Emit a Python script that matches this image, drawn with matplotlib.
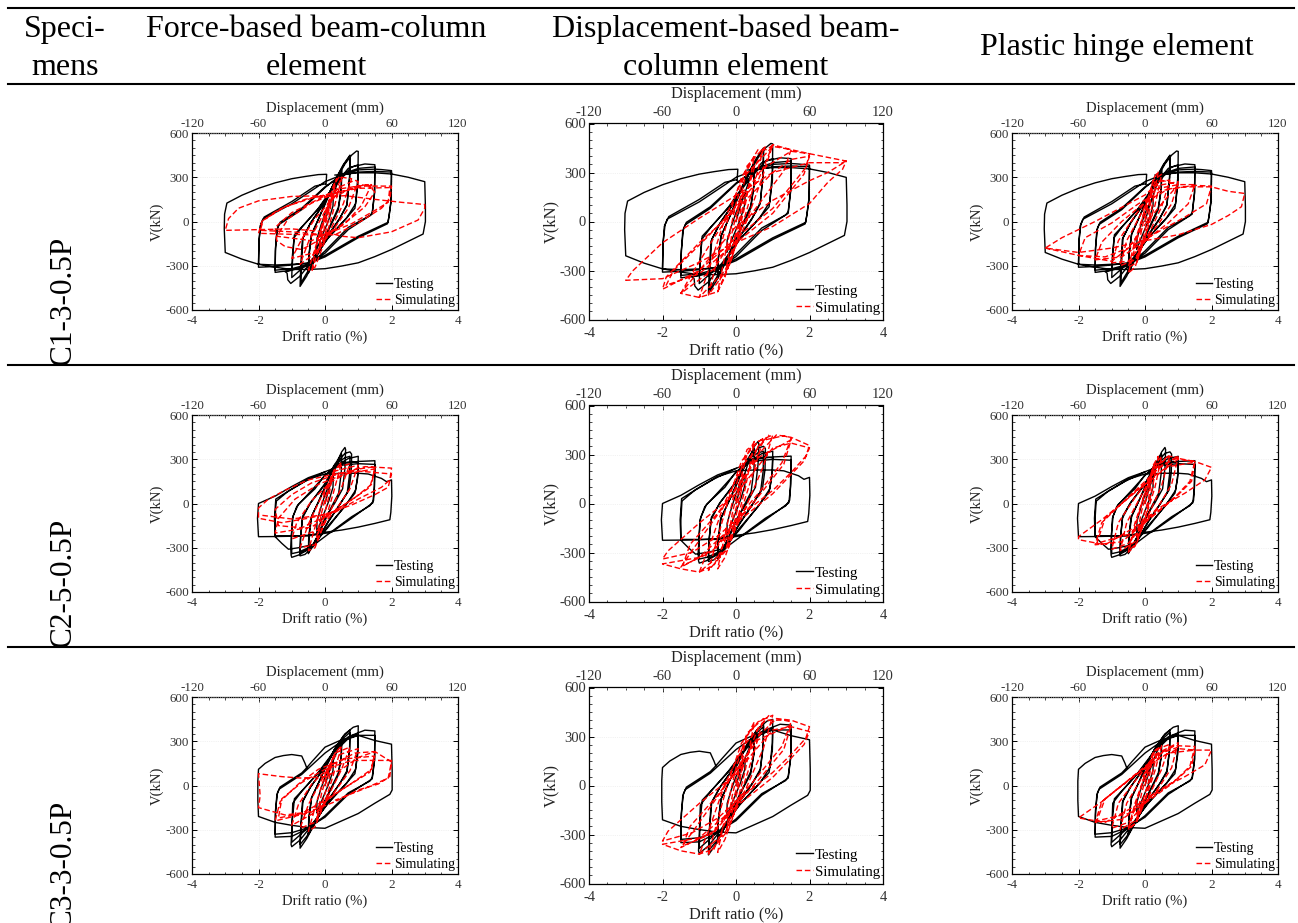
import numpy as np
import matplotlib
matplotlib.use('Agg')
import matplotlib.pyplot as plt
from matplotlib.lines import Line2D
from matplotlib.ticker import AutoMinorLocator

plt.rcParams['font.family'] = ['Liberation Serif', 'DejaVu Serif']
plt.rcParams['axes.unicode_minus'] = False

# all curves are (drift %, shear kN)
c1_test = [(0,0),(.12,95),(.25,175),(.24,105),(.12,15),(0,-50),(-.12,-115),(-.25,-190),(-.24,-115),(-.12,-25),(0,55),(.12,115),(.25,180),
    (.38,265),(.5,345),(.49,225),(.4,95),(.22,5),(0,-100),(-.25,-225),(-.5,-345),(-.49,-235),(-.41,-90),(-.22,5),(0,115),(.25,245),(.5,350),
    (.49,220),(.4,80),(.2,-15),(0,-110),(-.25,-235),(-.5,-350),(-.48,-230),(-.4,-85),(-.2,15),(0,125),
    (.3,280),(.55,385),(.75,450),(.74,300),(.66,115),(.45,25),(.1,-90),(-.3,-250),(-.55,-370),(-.75,-440),(-.73,-300),(-.68,-120),(-.45,-15),
    (0,130),(.3,275),(.55,380),(.75,445),(.74,300),(.66,110),(.42,10),(.1,-95),(-.3,-255),(-.55,-350),(-.72,-415),(-.71,-290),(-.66,-110),(-.42,-5),
    (0,135),(.3,270),(.6,390),(.8,450),(.95,478),(1,475),(.99,310),(.92,120),(.65,25),(.1,-110),(-.4,-270),(-.75,-370),(-1,-415),(-1.03,-420),
    (-1.12,-395),(-1.14,-350),(-1.2,-340),(-1,-330),(-.98,-280),(-.93,-110),(-.7,-40),(-.2,90),(.3,250),(.7,360),(1,385),(.99,250),(.9,90),(.6,10),
    (.1,-110),(-.4,-260),(-1,-380),(-.98,-230),(-.92,-90),(-.65,-25),(-.2,85),(.3,240),(.8,370),(1.2,390),(1.5,385),(1.49,200),(1.42,60),(1.35,40),
    (.7,-40),(0,-200),(-.5,-300),(-1,-330),(-1.5,-345),(-1.49,-200),(-1.45,-60),(-1.38,-20),(-.7,80),(0,230),(.5,320),(1,360),(1.5,370),(1.49,190),
    (1.42,50),(.7,-55),(0,-215),(-.5,-290),(-1,-320),(-1.5,-330),(-1.49,-180),(-1.43,-45),(-1.35,-5),(-.7,90),(0,235),(.5,310),(1,350),(1.5,355),
    (1.7,352),(2,345),(1.99,150),(1.93,50),(1.9,-5),(1,-100),(0,-230),(-.5,-280),(-1,-295),(-1.5,-305),(-2,-310),(-1.99,-150),(-1.95,-30),(-1.87,15),
    (-1,120),(0,270),(.5,315),(1,335),(1.5,340),(2,335),(1.99,140),(1.93,40),(1.88,-15),(1,-110),(0,-240),(-.5,-285),(-1,-290),(-1.5,-295),(-2,-290),
    (-1.98,-120),(-1.93,-20),(-1.83,30),(-1,135),(-.3,240),(0,255),(.03,250),(.05,320),(-.2,318),(-.6,305),(-1,290),(-1.5,262),(-2,225),(-2.5,178),
    (-2.95,125),(-3.02,50),(-3.03,-50),(-3,-210),(-2.5,-255),(-2,-290),(-1.5,-310),(-1,-325),(-.5,-325),(0,-320),(.5,-302),(1,-280),(1.5,-238),(2,-190),
    (2.5,-135),(2.95,-85),(3.02,0),(3.02,100),(3,270),(2.5,300),(2,322),(1.5,330),(1,330),(.3,315)]

c2_test = [(0,0),(.12,100),(.25,180),(.24,110),(.12,20),(0,-50),(-.12,-120),(-.25,-200),(-.24,-120),(-.12,-25),(0,60),(.12,125),(.25,190),
    (.4,300),(.5,350),(.6,380),(.62,365),(.6,240),(.53,100),(.3,5),(0,-100),(-.25,-230),(-.5,-340),(-.49,-230),(-.42,-95),(-.22,0),(0,105),(.25,250),
    (.5,335),(.49,210),(.41,70),(.2,-20),(0,-115),(-.25,-235),(-.5,-335),(-.48,-225),(-.4,-85),(-.2,10),(0,115),(.3,260),(.6,340),(.75,350),(.8,335),
    (.79,210),(.72,90),(.45,-5),(.1,-120),(-.3,-280),(-.6,-345),(-.75,-355),(-.74,-240),(-.68,-100),(-.45,0),(0,130),(.3,265),(.6,310),(.75,320),
    (.74,200),(.67,75),(.42,-15),(.1,-125),(-.3,-270),(-.6,-320),(-.75,-335),(-.73,-220),(-.67,-85),(-.42,10),(0,135),(.3,250),(.7,305),(1,320),
    (.99,200),(.92,90),(.6,-20),(.1,-150),(-.4,-300),(-.8,-350),(-1,-365),(-1.02,-350),(-1.03,-300),(-1.01,-230),(-.98,-100),(-.85,-20),(-.4,90),(0,190),
    (.4,270),(.8,285),(1,280),(.98,170),(.9,70),(.55,-30),(.1,-160),(-.4,-290),(-.8,-330),(-1,-340),(-1.01,-210),(-.96,-85),(-.8,-5),(-.3,100),
    (0,195),(.5,270),(1,285),(1.5,290),(1.49,120),(1.46,20),(1.35,-15),(.8,-90),(.2,-190),(-.3,-275),(-.8,-300),(-1.1,-310),(-1.2,-290),(-1.3,-270),
    (-1.5,-225),(-1.52,-100),(-1.48,30),(-1.2,70),(-.6,150),(0,215),(.5,260),(1,270),(1.5,265),(1.48,100),(1.44,5),(.8,-100),(.2,-195),(-.5,-220),
    (-1,-220),(-1.5,-220),(-1.5,-100),(-1.47,15),(-1.1,85),(-.5,165),(0,200),(.5,205),(1,205),(1.3,200),(1.7,170),(1.85,148),(2,160),(2.01,50),(1.98,-60),
    (1.95,-110),(1.5,-135),(1,-160),(.5,-180),(0,-195),(-.5,-215),(-1,-222),(-1.5,-224),(-2,-225),(-2.03,-100),(-2,0),(-1.5,50),(-1,115),(-.5,175),(0,215)]

c3_test = [(0,0),(.12,90),(.25,165),(.24,100),(.12,15),(0,-50),(-.12,-115),(-.25,-185),(-.24,-110),(-.12,-20),(0,55),(.12,110),(.25,170),
    (.38,240),(.5,300),(.49,200),(.4,85),(.22,0),(0,-100),(-.25,-225),(-.5,-330),(-.49,-225),(-.41,-85),(-.22,5),(0,110),(.25,225),(.5,305),
    (.49,195),(.4,70),(.2,-15),(0,-110),(-.25,-235),(-.5,-330),(-.48,-220),(-.4,-80),(-.2,15),(0,120),(.3,250),(.55,335),(.75,375),(.74,250),(.66,100),
    (.45,15),(.1,-95),(-.3,-255),(-.55,-360),(-.75,-425),(-.73,-290),(-.68,-115),(-.45,-15),(0,125),(.3,250),(.55,320),(.75,360),(.74,240),(.66,90),
    (.42,5),(.1,-100),(-.3,-250),(-.55,-345),(-.75,-400),(-.72,-270),(-.66,-100),(-.42,-5),(0,130),(.3,250),(.6,350),(.85,395),(1,405),(.99,260),(.92,110),
    (.65,15),(.1,-115),(-.4,-270),(-.75,-370),(-1,-415),(-1.02,-400),(-1,-300),(-.97,-120),(-.7,-40),(-.2,90),(.3,240),(.7,330),(1,350),(.99,220),
    (.9,80),(.6,5),(.1,-120),(-.4,-265),(-1,-385),(-.98,-230),(-.92,-90),(-.65,-25),(-.2,85),(.3,230),(.8,340),(1.2,375),(1.5,370),(1.49,180),(1.42,55),
    (1.35,30),(.7,-50),(0,-205),(-.5,-290),(-1,-345),(-1.5,-350),(-1.49,-200),(-1.45,-65),(-1.38,-25),(-.7,75),(0,220),(.5,300),(1,340),(1.5,340),
    (1.49,170),(1.42,45),(.7,-60),(0,-215),(-.5,-285),(-1,-320),(-1.5,-330),(-1.49,-170),(-1.43,-50),(-1.35,-10),(-.7,85),(-.55,120),(-.6,150),(-.7,200),
    (-1,210),(-1.25,203),(-1.5,190),(-1.8,150),(-2,110),(-2.02,30),(-2.02,-100),(-2,-210),(-1.5,-250),(-1,-270),(-.5,-285),(0,-290),(.5,-240),(1,-190),(1.5,-120),(1.95,-60),(2.02,-30),(2.02,100),
    (2,280),(1.5,305),(1,340),(.5,310),(0,260),(-.4,160),(-.55,120)]

c1_fb_sim = [(0,0),(.1,90),(.2,170),(.15,60),(0,-90),(-.2,-210),(-.1,-70),(.05,80),(.25,240),(.35,290),(.1,60),(-.1,-120),(-.4,-340),(-.3,-200),(0,60),(.3,260),
    (.45,310),(.5,290),(.2,30),(0,-130),(-.3,-310),(-.5,-330),(-.2,-110),(.1,90),(.5,300),(.8,290),(.55,120),(.2,-40),(-.2,-200),(-.75,-290),(-.5,-140),(0,70),(.5,240),
    (.9,280),(1.0,270),(.7,90),(.3,-40),(-.3,-210),(-1.0,-250),(-.7,-120),(-.3,20),(.3,170),(1,245),(1.4,250),(1.1,110),(.7,10),(0,-105),(-.7,-190),(-1.2,-170),(-1.45,-130),
    (-1.5,-40),(-1,60),(-.3,140),(.4,220),(1.3,250),(1.5,200),(1.2,100),(.5,-30),(-.4,-130),(-1.45,-100),(-1.1,20),(-.4,125),(.4,200),(1.2,240),(2,240),(1.95,150),
    (1.7,90),(1,-10),(.3,-90),(-.5,-90),(-1.3,-85),(-2,-80),(-1.9,0),(-1.4,80),(-.6,150),(.2,190),(1,225),(1.95,230),(1.9,130),(1.5,75),(.8,-15),(0,-90),(-1,-70),
    (-1.95,-60),(-1.85,10),(-1.2,100),(-.3,165),(.6,175),(1.5,150),(2.3,130),(3,115),(3,90),(2.8,10),(2.5,-20),(2,-70),(1.5,-90),(1,-110),(.5,-100),(0,-70),(-1,-50),
    (-2,-55),(-3,-60),(-2.9,20),(-2.6,90),(-2,140),(-1,170),(0,175)]

c1_db_sim = [(0,0),(.1,110),(.2,190),(.1,30),(-.1,-170),(-.25,-270),(-.1,-60),(.1,130),(.3,310),(.5,400),(.25,100),(0,-130),(-.3,-340),(-.5,-430),(-.25,-150),(0,110),
    (.3,340),(.75,450),(.5,230),(.15,-40),(-.2,-280),(-.75,-450),(-.5,-220),(-.2,30),(.15,270),(.6,440),(.85,440),(1,470),(.7,260),(.25,-20),(-.3,-300),(-1,-465),(-.75,-300),
    (-.3,20),(.2,270),(1,460),(1.5,440),(1.3,310),(.6,100),(0,-80),(-.6,-290),(-1.5,-440),(-1.2,-320),(-.6,-100),(0,100),(.7,320),(1.5,430),(2,415),(1.9,330),(1,80),
    (0,-100),(-1,-300),(-2,-415),(-1.9,-340),(-1,-130),(0,70),(1,300),(1.5,380),(2,400),(1.85,290),(1,50),(0,-130),(-1,-320),(-1.9,-390),(-1.7,-300),(-.8,-100),(0,90),
    (.6,250),(1,470),(1.5,440),(2,415),(3,370),(2.9,320),(2.5,240),(2,110),(1,-30),(0,-130),(-1,-250),(-2,-350),(-3,-360),(-2.8,-300),(-2,-130),(-1,20),(0,160),(1,300),
    (2,360),(2.9,360),(3,370),(2.5,300),(2,250),(1,130),(0,-30),(-1,-300),(-1.5,-440),(-1,-465),(-.5,-430),(-.1,-220),(.2,100),(.5,330),(.8,460)]

c1_ph_sim = [(0,0),(.1,100),(.2,180),(.1,30),(-.1,-150),(-.25,-250),(-.1,-50),(.1,130),(.25,290),(.4,340),(.2,90),(0,-110),(-.3,-310),(-.5,-350),(-.25,-130),(0,90),
    (.25,280),(.5,320),(.3,110),(.05,-70),(-.25,-280),(-.5,-310),(-.3,-130),(0,80),(.3,270),(.75,280),(.5,100),(.1,-90),(-.3,-260),(-.75,-300),(-.55,-130),(-.1,60),(.3,240),
    (1,270),(.8,120),(.4,-20),(0,-130),(-.5,-270),(-1,-280),(-.8,-130),(-.3,40),(.3,220),(1,250),(1.5,250),(1.3,120),(.7,-10),(0,-130),(-.7,-240),(-1.5,-260),(-1.3,-140),(-.7,0),
    (0,130),(.7,220),(1.5,245),(2,240),(1.85,120),(1.2,30),(.4,-70),(-.5,-180),(-1.2,-240),(-2,-230),(-1.8,-110),(-1,-10),(-.2,120),(.5,210),(1.2,235),(2,235),(2.5,205),
    (3,190),(2.9,100),(2.5,40),(2,-20),(1,-90),(0,-130),(-1,-180),(-2,-210),(-3,-180),(-2.5,-110),(-1.5,0),(-.5,120),(0,180),(.5,280),(1,250),(.5,120),(0,-20),(-.5,-180),
    (-1,-270),(-2,-230),(-3,-180)]

c2_fb_sim = [(0,0),(.1,90),(.2,160),(.1,30),(-.1,-140),(-.25,-230),(-.1,-60),(.1,110),(.3,230),(.5,280),(.25,70),(0,-120),(-.3,-300),(-.5,-320),(-.25,-120),(0,80),(.3,240),
    (.75,270),(.5,110),(.1,-80),(-.3,-280),(-.75,-300),(-.5,-140),(-.1,50),(.3,220),(1,260),(.75,100),(.3,-50),(-.2,-180),(-1,-240),(-.85,-130),(-.4,20),(.2,150),(.9,230),
    (1.5,250),(1.4,130),(.9,40),(.3,-50),(-.4,-160),(-1.5,-200),(-1.4,-100),(-.9,30),(-.2,130),(.6,200),(1.5,235),(1.35,110),(.7,10),(0,-90),(-.7,-165),(-1.4,-150),(-1.5,-40),
    (-1,60),(-.4,140),(.4,200),(1.2,250),(2,240),(1.95,160),(1.7,110),(1,30),(.3,-60),(-.5,-100),(-1.3,-130),(-2,-100),(-2,-30),(-1.7,30),(-1.2,90),(-.5,160),(.3,200),(1,220),(2,200),
    (1.9,110),(1.5,60),(.8,-10),(0,-75),(-1,-105),(-1.9,-80)]

c2_db_sim = [(0,0),(.1,100),(.2,180),(.1,20),(-.1,-170),(-.25,-260),(-.1,-60),(.1,130),(.3,300),(.5,380),(.25,90),(0,-130),(-.3,-330),(-.5,-400),(-.25,-140),(0,110),(.3,330),
    (.75,400),(.5,210),(.15,-40),(-.2,-270),(-.75,-410),(-.5,-210),(-.2,30),(.15,260),(.6,380),(1,420),(.75,230),(.25,-30),(-.3,-290),(-1,-420),(-.75,-280),(-.3,10),(.2,240),(.8,390),
    (1.3,415),(1.5,400),(1.25,250),(.6,60),(0,-100),(-.6,-280),(-1.5,-390),(-1.2,-290),(-.6,-100),(0,90),(.6,280),(1.5,390),(1.3,240),(.6,40),(0,-120),(-.6,-290),(-1.45,-380),
    (-1.25,-250),(-.5,-60),(.1,120),(.6,300),(1.1,420),(1.5,405),(2,355),(1.9,290),(1.5,190),(1,80),(.2,-60),(-.5,-200),(-1.2,-300),(-2,-340),(-1.85,-290),(-1,-120),(0,60),(.5,200),
    (1,340),(1.5,370),(2,340),(1.85,260),(1,60),(0,-120),(-1,-330),(-2,-370),(-1.5,-400),(-1,-420),(-.6,-380),(-.2,-180),(.2,120),(.6,350),(.9,420)]

c2_ph_sim = [(0,0),(.1,90),(.2,170),(.1,20),(-.1,-130),(-.25,-220),(-.1,-50),(.1,110),(.25,260),(.4,320),(.2,80),(0,-110),(-.3,-290),(-.5,-330),(-.25,-120),(0,80),(.25,250),(.5,320),
    (.3,110),(.05,-70),(-.25,-270),(-.5,-320),(-.3,-130),(0,70),(.3,250),(.75,330),(.5,120),(.1,-80),(-.3,-260),(-.75,-320),(-.55,-130),(-.1,60),(.3,230),(.7,320),(1,315),(.8,130),
    (.4,-20),(0,-130),(-.5,-270),(-1,-310),(-.8,-130),(-.3,40),(.3,220),(.9,310),(1.5,285),(1.35,150),(.8,20),(0,-130),(-.7,-260),(-1.5,-280),(-1.3,-130),(-.7,0),(0,130),(.7,250),
    (1.5,280),(1.4,150),(1,60),(.3,-70),(-.5,-210),(-1.45,-270),(-1.2,-100),(-.4,60),(.3,190),(1,300),(1.5,285),(2,245),(1.8,160),(1.2,70),(.5,-20),(-.3,-160),(-1.2,-280),(-2,-245),
    (-2,-225),(-1.3,-110),(-.7,0),(0,150),(.5,260),(1,310)]

c3_fb_sim = [(0,0),(.1,80),(.2,150),(.1,20),(-.1,-130),(-.25,-220),(-.1,-50),(.1,100),(.3,220),(.5,270),(.25,70),(0,-110),(-.3,-280),(-.5,-310),(-.25,-110),(0,70),(.3,220),(.75,260),
    (.5,110),(.1,-70),(-.3,-250),(-.75,-290),(-.5,-130),(-.1,40),(.3,200),(1,250),(.75,100),(.3,-40),(-.2,-170),(-1,-270),(-.8,-130),(-.4,10),(.2,140),(.9,220),(1.5,230),(1.4,110),
    (.9,30),(.3,-60),(-.4,-180),(-1.5,-240),(-1.35,-110),(-.8,10),(-.2,110),(.6,180),(1.5,200),(1.35,90),(.7,0),(0,-100),(-.7,-190),(-1.4,-220),(-1.3,-90),(-.7,20),(0,110),(.8,170),
    (1.6,170),(2,170),(1.95,60),(1.6,10),(1,-30),(.3,-110),(-.5,-180),(-1.2,-200),(-2,-150),(-1.95,-70),(-2,80),(-1.3,60),(-.7,50),(0,60),(.5,110),(1,190),(1.5,230),(2,160),
    (1.9,50),(1.2,-20),(.3,-100)]

c3_db_sim = [(0,0),(.1,100),(.2,180),(.1,20),(-.1,-160),(-.25,-260),(-.1,-60),(.1,130),(.3,300),(.5,390),(.25,90),(0,-130),(-.3,-330),(-.5,-410),(-.25,-140),(0,110),(.3,320),(.75,410),
    (.5,210),(.15,-40),(-.2,-270),(-.75,-420),(-.5,-210),(-.2,30),(.15,260),(.6,390),(1,430),(.75,230),(.25,-30),(-.3,-290),(-1,-420),(-.75,-280),(-.3,10),(.2,240),(.8,400),(1.3,400),
    (1.5,390),(1.25,240),(.6,60),(0,-100),(-.6,-280),(-1.5,-380),(-1.2,-290),(-.6,-100),(0,90),(.6,280),(1.5,370),(1.3,220),(.6,30),(0,-120),(-.6,-290),(-1.45,-370),(-1.25,-250),
    (-.5,-60),(.1,120),(.6,300),(1.1,410),(1.5,400),(2,360),(1.9,290),(1.5,190),(1,80),(.2,-60),(-.5,-200),(-1.2,-290),(-2,-340),(-1.85,-280),(-1,-110),(0,70),(.5,210),(1,340),(1.5,360),
    (2,330),(1.85,250),(1,50),(0,-130),(-1,-320),(-2,-360),(-1.5,-400),(-1,-420),(-.6,-390),(-.2,-180),(.2,120),(.6,350),(.9,430)]

c3_ph_sim = [(0,0),(.1,90),(.2,160),(.1,20),(-.1,-130),(-.25,-210),(-.1,-50),(.1,110),(.25,220),(.4,250),(.2,70),(0,-100),(-.3,-260),(-.5,-300),(-.25,-110),(0,80),(.25,230),(.5,270),
    (.3,100),(.05,-70),(-.25,-250),(-.5,-290),(-.3,-120),(0,70),(.3,240),(.75,280),(.5,110),(.1,-80),(-.3,-240),(-.75,-300),(-.55,-120),(-.1,50),(.3,210),(1,290),(.8,120),(.4,-20),
    (0,-120),(-.5,-250),(-1,-290),(-.8,-120),(-.3,30),(.3,200),(.9,270),(1.5,265),(1.35,130),(.8,10),(0,-120),(-.7,-230),(-1.5,-250),(-1.3,-110),(-.7,0),(0,120),(.7,220),(1.5,240),
    (1.4,130),(1,50),(.3,-60),(-.5,-190),(-1.45,-240),(-1.2,-90),(-.4,50),(.3,170),(1,250),(1.5,240),(2,240),(1.8,140),(1.2,60),(.5,-20),(-.3,-140),(-1.2,-250),(-2,-220),(-1.3,-110),
    (-.7,0),(0,130),(.5,220),(1,260)]

header_labels = ['Force-based beam-column\nelement', 'Displacement-based beam-\ncolumn element', 'Plastic hinge element']
specimens = ['C1-3-0.5P', 'C2-5-0.5P', 'C3-3-0.5P']
test_curves = [c1_test, c2_test, c3_test]
sim_curves = [[c1_fb_sim, c1_db_sim, c1_ph_sim], [c2_fb_sim, c2_db_sim, c2_ph_sim], [c3_fb_sim, c3_db_sim, c3_ph_sim]]
drift_ticks = [-4, -2, 0, 2, 4]
disp_ticks = [-120, -60, 0, 60, 120]
shear_ticks = [-600, -300, 0, 300, 600]

W, H = 1298, 923
fig = plt.figure(figsize=(W / 100, H / 100), dpi=100)

def add_axes_px(left, top, right, bottom):
    return fig.add_axes([left / W, 1 - bottom / H, (right - left) / W, (bottom - top) / H])

def draw_panel(ax, test, sim, st):
    tx, ty = np.array(test).T
    sx, sy = np.array(sim).T
    ax.plot(tx, ty, color='black', lw=1.0, label='Testing', zorder=3)
    ax.plot(sx, sy, color='red', lw=1.0, ls=(0, (4, 2)), label='Simulating', zorder=4)
    ax.set_xlim(-4, 4)
    ax.set_ylim(-600, 600)
    ax.set_xticks(drift_ticks)
    ax.set_yticks(shear_ticks)
    ax.xaxis.set_minor_locator(AutoMinorLocator(4))
    ax.yaxis.set_minor_locator(AutoMinorLocator(6))
    ax.grid(True, color='#e6e6e6', lw=0.5, ls=':')
    ax.tick_params(which='major', direction='in', length=3.5, width=0.7, top=False, right=True, labelsize=st['tick'], labelcolor='#333333')
    ax.tick_params(axis='x', which='major', pad=st['xpad'])
    ax.tick_params(axis='y', which='major', pad=2)
    ax.tick_params(which='minor', direction='in', length=1.8, width=0.5, top=False, right=True)
    ax.set_xlabel('Drift ratio (%)', fontsize=st['label'], color='#222222', labelpad=st['xlab'])
    ax.set_ylabel('V(kN)', fontsize=st['label'], color='#222222', labelpad=st['ylab'])
    top = ax.secondary_xaxis('top', functions=(lambda d: d * 30, lambda m: m / 30))
    top.set_xticks(disp_ticks)
    top.xaxis.set_minor_locator(AutoMinorLocator(4))
    top.tick_params(which='major', direction='in', length=3.5, width=0.7, labelsize=st['tick'], labelcolor='#333333', pad=st['toppad'])
    top.tick_params(which='minor', direction='in', length=1.8, width=0.5)
    top.set_xlabel('Displacement (mm)', fontsize=st['label'], color='#222222', labelpad=st['toplab'])
    ax.spines['top'].set_visible(False)
    for s in list(ax.spines.values()) + list(top.spines.values()):
        s.set_linewidth(0.9)
    ax.legend(loc='lower right', bbox_to_anchor=(1.0, st['legy']), frameon=False, fontsize=st['legend'], handlelength=1.15,
              handletextpad=0.15, labelspacing=0.25, borderaxespad=0.1, borderpad=0.1)

narrow = dict(tick=9.4, label=10.6, legend=10, xpad=3.5, toppad=2.5, xlab=2.5, toplab=4, ylab=1, legy=0.0)
wide = dict(tick=10.5, label=11.75, legend=10.6, xpad=5.5, toppad=3.5, xlab=2, toplab=5.5, ylab=0, legy=0.01)
col_x = [(192, 458), (589, 883), (1012, 1278)]
row_mid = [221.5, 503.5, 785.5]
col_half = [88.5, 98, 88.5]
col_style = [narrow, wide, narrow]

for r in range(3):
    for c in range(3):
        ax = add_axes_px(col_x[c][0], row_mid[r] - col_half[c], col_x[c][1], row_mid[r] + col_half[c])
        draw_panel(ax, test_curves[r], sim_curves[r][c], col_style[c])

for y in [8, 84, 365, 647]:
    fig.add_artist(Line2D([8 / W, 1 - 4 / W], [1 - y / H, 1 - y / H], color='black', lw=1.5))

fig.text(65 / W, 1 - 48.5 / H, 'Speci-\nmens', ha='center', va='center', fontsize=23, linespacing=1.4)
fig.text(316 / W, 1 - 48.5 / H, header_labels[0], ha='center', va='center', fontsize=23, linespacing=1.4)
fig.text(726 / W, 1 - 48.5 / H, header_labels[1], ha='center', va='center', fontsize=23, linespacing=1.4)
fig.text(1117 / W, 1 - 48 / H, header_labels[2], ha='center', va='center', fontsize=23)

for name, y in zip(specimens, [365, 647, 929]):
    fig.text(63 / W, 1 - y / H, name, rotation=90, ha='center', va='bottom', fontsize=22.5)

fig.savefig('out.png', dpi=100)
